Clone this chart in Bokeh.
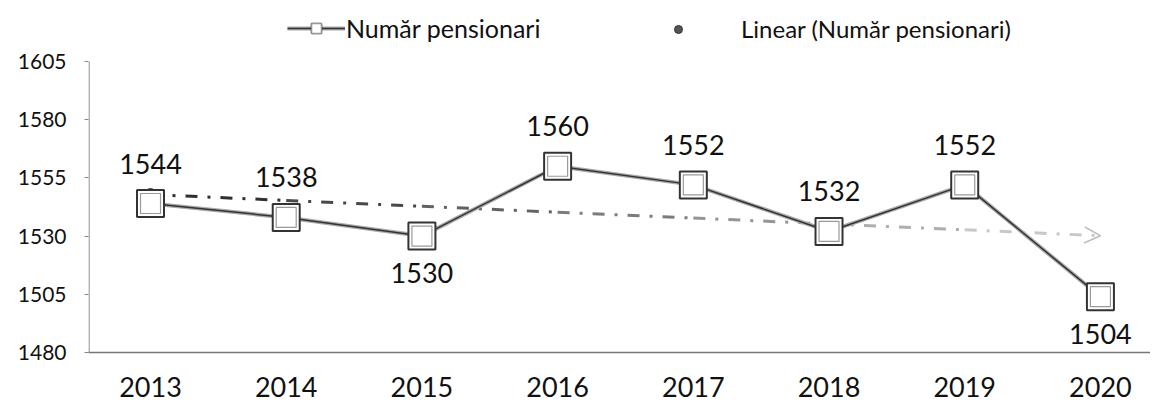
import numpy as np
from bokeh.plotting import figure
from bokeh.models import (Range1d, FixedTicker, Legend, LegendItem, Arrow,
                          OpenHead, ColumnDataSource)
from bokeh.core.properties import value
from bokeh.embed import file_html
from bokeh.resources import INLINE

# ---- data ----
years = ["2013", "2014", "2015", "2016", "2017", "2018", "2019", "2020"]
pensioners = [1544, 1538, 1530, 1560, 1552, 1532, 1552, 1504]
label_side = ["above", "above", "below", "above", "above", "above", "above", "below"]
y_ticks = [1480, 1505, 1530, 1555, 1580, 1605]
series_name = "Număr pensionari"
trend_name = "Linear (Număr pensionari)"

FONT = "Lato"

x = np.arange(len(years))
slope, intercept = np.polyfit(x, pensioners, 1)

X0 = -0.457
p = figure(width=1150, height=408, output_backend="svg", toolbar_location=None,
           x_range=Range1d(X0, 7.369), y_range=Range1d(1480, 1631.2),
           min_border_left=88, min_border_right=0, min_border_top=0,
           min_border_bottom=56)
p.outline_line_color = None
p.grid.visible = False

# axes
p.xaxis.ticker = FixedTicker(ticks=list(x))
p.xaxis.major_label_overrides = {int(i): years[i] for i in x}
p.xaxis.major_tick_line_color = None
p.xaxis.minor_tick_line_color = None
p.xaxis.axis_line_color = "#777777"
p.xaxis.axis_line_width = 1.5
p.xaxis.major_label_text_font = FONT
p.xaxis.major_label_text_font_size = "27px"
p.xaxis.major_label_text_color = "#111111"
p.xaxis.major_label_standoff = 18

p.yaxis.ticker = FixedTicker(ticks=y_ticks)
p.yaxis.minor_tick_line_color = None
p.yaxis.major_tick_in = 0
p.yaxis.major_tick_out = 4
p.yaxis.major_tick_line_color = "#888888"
p.yaxis.axis_line_color = None
p.yaxis.major_label_text_font = FONT
p.yaxis.major_label_text_font_size = "21px"
p.yaxis.major_label_text_color = "#111111"
p.yaxis.major_label_standoff = 18
# visible y-axis line only over the tick span
p.segment([X0 + 0.004], [min(y_ticks)], [X0 + 0.004], [max(y_ticks)],
          line_color="#888888", line_width=1.2)

# trend line (fading dash-dot)
xs0 = x[:-1].astype(float)
xs1 = x[1:].astype(float)
shades = np.linspace(0x30, 0xc8, len(xs0)).astype(int)
colors = ["#%02x%02x%02x" % (s, s, s) for s in shades]
tsrc = ColumnDataSource(dict(x0=xs0, x1=xs1, y0=intercept + slope * xs0,
                             y1=intercept + slope * xs1, c=colors))
trend_seg = p.segment("x0", "y0", "x1", "y1", source=tsrc, line_color="c",
                      line_width=3, line_dash="12 10 3 10")
trend_dot = p.scatter([x[0]], [intercept], size=12, marker="circle",
                      fill_color="#555555", line_color="#333333")
p.add_layout(Arrow(end=OpenHead(size=16, line_color="#bdbdbd", line_width=1.5),
                   x_start=6.85, y_start=intercept + slope * 6.85,
                   x_end=7.0, y_end=intercept + slope * 7.0,
                   line_alpha=0))

# series
src = ColumnDataSource(dict(x=x, y=pensioners))
line_back = p.line("x", "y", source=src, line_color="#aaaaaa", line_width=4)
line_main = p.line("x", "y", source=src, line_color="#333333", line_width=1.5)
sq_outer = p.scatter("x", "y", source=src, marker="square", size=27,
                     fill_color="white", line_color="#333333", line_width=2)
sq_inner = p.scatter("x", "y", source=src, marker="square", size=20,
                     fill_color="white", line_color="#9a9a9a", line_width=1.2)

# data labels
above = [i for i in range(len(x)) if label_side[i] == "above"]
below = [i for i in range(len(x)) if label_side[i] == "below"]
src_a = ColumnDataSource(dict(x=[x[i] for i in above], y=[pensioners[i] for i in above],
                              t=[str(pensioners[i]) for i in above]))
src_b = ColumnDataSource(dict(x=[x[i] for i in below], y=[pensioners[i] for i in below],
                              t=[str(pensioners[i]) for i in below]))
p.text("x", "y", text="t", source=src_a, text_align="center", text_baseline="bottom",
       y_offset=-30, text_font=value(FONT), text_font_size="27px", text_color="#111111")
p.text("x", "y", text="t", source=src_b, text_align="center", text_baseline="top",
       y_offset=27, text_font=value(FONT), text_font_size="27px", text_color="#111111")

common = dict(orientation="horizontal", label_text_font=FONT,
              label_text_color="#111111",
              glyph_height=24, border_line_color=None, background_fill_alpha=0,
              padding=0, margin=0)
legend1 = Legend(items=[LegendItem(label=series_name,
                                   renderers=[line_back, line_main, sq_outer, sq_inner])],
                 location=(199, 309), glyph_width=58, label_standoff=1,
                 label_text_font_size="25px", **common)
legend2 = Legend(items=[LegendItem(label=trend_name, renderers=[trend_dot])],
                 location=(580, 309), glyph_width=20, label_standoff=53,
                 label_text_font_size="24px", **common)
p.add_layout(legend1, "center")
p.add_layout(legend2, "center")

open("out.html", "w").write(file_html(p, INLINE))
